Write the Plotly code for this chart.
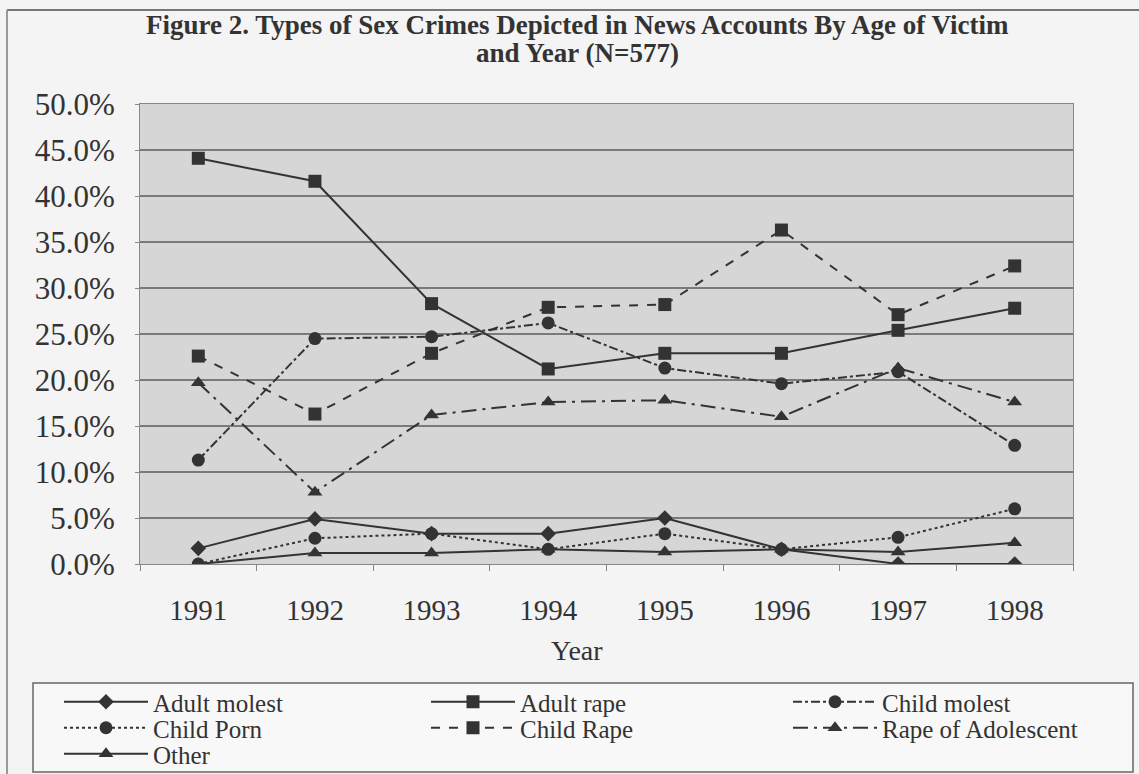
import plotly.graph_objects as go

years = ["1991", "1992", "1993", "1994", "1995", "1996", "1997", "1998"]
adult_molest = [1.7, 4.9, 3.3, 3.3, 5.0, 1.6, 0.0, 0.0]
adult_rape = [44.1, 41.6, 28.3, 21.2, 22.9, 22.9, 25.4, 27.8]
child_molest = [11.3, 24.5, 24.7, 26.2, 21.3, 19.6, 20.9, 12.9]
child_porn = [0.0, 2.8, 3.3, 1.6, 3.3, 1.6, 2.9, 6.0]
child_rape = [22.6, 16.3, 22.9, 27.9, 28.2, 36.3, 27.1, 32.4]
rape_adolescent = [19.7, 7.8, 16.2, 17.6, 17.8, 16.0, 21.3, 17.6]
other = [0.0, 1.2, 1.2, 1.6, 1.3, 1.6, 1.3, 2.3]

# name, values, dash, symbol, marker size, legend column, legend row
series = [
    ("Adult molest", adult_molest, "solid", "diamond", 12, 0, 0),
    ("Adult rape", adult_rape, "solid", "square", 13, 1, 0),
    ("Child molest", child_molest, "dashdot", "circle", 13, 2, 0),
    ("Child Porn", child_porn, "dot", "circle", 13, 0, 1),
    ("Child Rape", child_rape, "dash", "square", 13, 1, 1),
    ("Rape of Adolescent", rape_adolescent, "longdashdot", "triangle-up", 13, 2, 1),
    ("Other", other, "solid", "triangle-up", 13, 0, 2),
]

W, H = 1139, 774
PL, PR, PT, PB = 140, 1073, 104, 564
PW, PH = PR - PL, PB - PT


def px(x):
    return (x - PL) / PW


def py(y):
    return (PB - y) / PH


INK = "#333333"
serif = "Liberation Serif, Times New Roman, serif"
col_x = [59, 426, 788]
row_y = [702, 728, 754]

fig = go.Figure()
legends = {}
for i, (name, vals, dash, sym, sz, c, r) in enumerate(series):
    key = "legend" if i == 0 else f"legend{i + 1}"
    fig.add_trace(go.Scatter(
        x=years, y=vals, name=name, mode="lines+markers",
        line=dict(color=INK, width=2, dash=dash),
        marker=dict(symbol=sym, size=sz, color=INK),
        legend=key,
    ))
    legends[key] = dict(
        x=col_x[c] / W, xref="container", xanchor="left",
        y=1 - row_y[r] / H, yref="container", yanchor="middle",
        itemwidth=84, font=dict(size=25, family=serif, color=INK),
        bgcolor="rgba(0,0,0,0)", borderwidth=0,
    )

fig.update_layout(
    width=W, height=H,
    margin=dict(l=PL, r=W - PR, t=PT, b=H - PB, autoexpand=False),
    paper_bgcolor="#f4f4f4",
    plot_bgcolor="#d6d6d6",
    font=dict(family=serif, color=INK),
    showlegend=True,
    xaxis=dict(
        type="category", range=[-0.5, 7.5],
        showgrid=False, tickson="boundaries", ticks="outside", ticklen=6,
        tickcolor="#888888", showline=True, linecolor="#888888", mirror=True,
        tickfont=dict(size=29, family=serif, color=INK),
        ticklabelstandoff=20,
    ),
    yaxis=dict(
        range=[0, 50], dtick=5, tickformat=".1f", ticksuffix="%",
        showgrid=True, gridcolor="#7a7a7a", gridwidth=1.5,
        ticks="outside", ticklen=4, tickcolor="#888888",
        showline=True, linecolor="#888888", mirror=True, zeroline=False,
        tickfont=dict(size=31, family=serif, color=INK),
        ticklabelstandoff=14,
    ),
    annotations=[
        dict(text="<b>Figure 2. Types of Sex Crimes Depicted in News Accounts By Age of Victim</b>",
             xref="paper", yref="paper", x=px(577), y=py(25),
             xanchor="center", yanchor="middle", showarrow=False,
             font=dict(size=27, family=serif, color=INK)),
        dict(text="<b>and Year (N=577)</b>",
             xref="paper", yref="paper", x=px(577), y=py(53),
             xanchor="center", yanchor="middle", showarrow=False,
             font=dict(size=27, family=serif, color=INK)),
        dict(text="Year", xref="paper", yref="paper", x=px(577), y=py(650),
             xanchor="center", yanchor="middle", showarrow=False,
             font=dict(size=28, family=serif, color=INK)),
    ],
    shapes=[
        dict(type="line", xref="paper", yref="paper",
             x0=px(7), x1=px(W), y0=py(10), y1=py(10),
             line=dict(color="#777777", width=2)),
        dict(type="line", xref="paper", yref="paper",
             x0=px(7), x1=px(7), y0=py(10), y1=py(H),
             line=dict(color="#999999", width=2)),
        dict(type="rect", xref="paper", yref="paper",
             x0=px(33), x1=px(1133), y0=py(683), y1=py(772),
             line=dict(color="#666666", width=1.5), fillcolor="rgba(255,255,255,0.35)",
             layer="below"),
    ],
    **legends,
)

fig.write_html("out.html")
